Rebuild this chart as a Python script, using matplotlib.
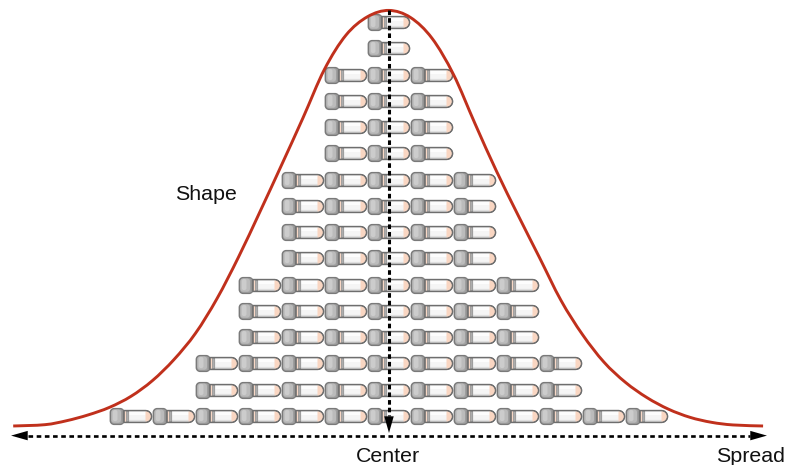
import numpy as np
import matplotlib
matplotlib.use("Agg")
import matplotlib.pyplot as plt
from matplotlib.path import Path
from matplotlib.patches import PathPatch

plt.rcParams['font.family'] = ['Liberation Sans', 'DejaVu Sans']

# ---- data -------------------------------------------------------------
column_offsets = [-6, -5, -4, -3, -2, -1, 0, 1, 2, 3, 4, 5, 6]
column_counts = [1, 1, 3, 6, 10, 14, 16, 14, 10, 6, 3, 1, 1]

curve_x = [-8.74, -8.0, -7.5, -7.0, -6.5, -6.0, -5.5, -5.0, -4.5, -4.0, -3.5, -3.0, -2.5, -2.0,
           -1.5, -1.0, -0.5, 0.0, 0.5, 1.0, 1.5, 2.0, 2.5, 3.0, 3.5, 4.0, 4.5, 5.0, 5.5, 6.0,
           6.5, 7.0, 7.5, 8.0, 8.7]
curve_y = [0.62, 0.67, 0.82, 1.04, 1.33, 1.75, 2.35, 3.15, 4.15, 5.47, 7.05, 8.78, 10.55, 12.35,
           14.2, 15.5, 16.2, 16.44, 16.17, 15.38, 14.0, 12.13, 10.32, 8.65, 7.03, 5.4, 4.1, 3.05, 2.28, 1.7,
           1.26, 0.95, 0.76, 0.66, 0.62]

label_shape = "Shape"
label_center = "Center"
label_spread = "Spread"

# ---- figure -----------------------------------------------------------
DPI = 100
fig = plt.figure(figsize=(7.86, 4.65), dpi=DPI)
ax = fig.add_axes([0, 0, 1, 1])
ax.set_xlim(-9.047, 9.233)
ax.set_ylim(-0.865, 16.836)
ax.axis('off')

xs = [c for c, n in zip(column_offsets, column_counts) for _ in range(n)]
ys = [k + 1 for n in column_counts for k in range(n)]


# ---- bullet glyph, stacked markers sized in pixels ---------------------
def rrect(x0, x1, y0, y1, r):
    k = 0.55 * r
    v = [(x0 + r, y0), (x1 - r, y0), (x1 - r + k, y0), (x1, y0 + r - k), (x1, y0 + r),
         (x1, y1 - r), (x1, y1 - r + k), (x1 - r + k, y1), (x1 - r, y1),
         (x0 + r, y1), (x0 + r - k, y1), (x0, y1 - r + k), (x0, y1 - r),
         (x0, y0 + r), (x0, y0 + r - k), (x0 + r - k, y0), (x0 + r, y0), (x0 + r, y0)]
    c = [Path.MOVETO, Path.LINETO, Path.CURVE4, Path.CURVE4, Path.CURVE4,
         Path.LINETO, Path.CURVE4, Path.CURVE4, Path.CURVE4,
         Path.LINETO, Path.CURVE4, Path.CURVE4, Path.CURVE4,
         Path.LINETO, Path.CURVE4, Path.CURVE4, Path.CURVE4, Path.CLOSEPOLY]
    return Path(v, c)


def body(x0, x1, y0, y1, rtip):
    k = 0.55
    ym = (y0 + y1) / 2
    h = (y1 - y0) / 2
    v = [(x0, y0), (x1 - rtip, y0), (x1 - rtip + k * rtip, y0), (x1, ym - k * h), (x1, ym),
         (x1, ym + k * h), (x1 - rtip + k * rtip, y1), (x1 - rtip, y1), (x0, y1), (x0, y0)]
    c = [Path.MOVETO, Path.LINETO, Path.CURVE4, Path.CURVE4, Path.CURVE4,
         Path.CURVE4, Path.CURVE4, Path.CURVE4, Path.LINETO, Path.CLOSEPOLY]
    return Path(v, c)


def stamp(path, fc='none', ec='none', lw=0.0, z=3):
    m = np.abs(path.vertices).max()
    ax.plot(xs, ys, ls='none', marker=path, ms=2 * m * 72 / DPI,
            mfc=fc, mec=ec, mew=lw, zorder=z, clip_on=False)


stamp(body(-9, 20, -5.9, 5.9, 6), fc='#f5f5f5', ec='#6e6e6e', lw=1.0)
stamp(rrect(-2.6, 14.5, 1.5, 5.2, 0.3), fc='#fdfdfd')
stamp(rrect(-2.6, 14.5, -5.2, -3.4, 0.3), fc='#e0e0e0')
stamp(rrect(-7.6, -5.0, -5.2, 5.2, 0.2), fc='#f8d8c6')
stamp(rrect(-5.0, -2.7, -5.2, 5.2, 0.2), fc='#adadad', ec='#808080', lw=0.4)
stamp(body(14, 19.6, -5.3, 5.3, 5.2), fc='#f9d6c2')
stamp(rrect(-21.2, -7.6, -7.9, 7.9, 3.8), fc='#a4a4a4', ec='#7a7a7a', lw=1.0)
stamp(rrect(-20, -10.5, -6.2, 7.0, 2.8), fc='#bbbbbb')
stamp(rrect(-18.7, -14, -4.6, 6.5, 2.0), fc='#cccccc')
stamp(rrect(-9.8, -8.2, -6.8, 6.8, 0.6), fc='#939393')
stamp(body(-7.6, 20, -5.9, 5.9, 6), ec='#6e6e6e', lw=1.0, z=3.2)


# ---- shape curve through the points ------------------------------------
def smooth_path(x, y):
    p = np.column_stack([x, y])
    v = [p[0]]
    c = [Path.MOVETO]
    for i in range(len(p) - 1):
        a = p[max(i - 1, 0)]
        b = p[i]
        d = p[i + 1]
        e = p[min(i + 2, len(p) - 1)]
        v += [b + (d - a) / 6, d - (e - b) / 6, d]
        c += [Path.CURVE4] * 3
    return Path(np.array(v), c)


ax.add_patch(PathPatch(smooth_path(curve_x, curve_y), fc='none', ec='#c0301c', lw=2.1,
                       capstyle='butt', joinstyle='round', zorder=5))

# ---- dashed arrows ------------------------------------------------------
head = dict(arrowstyle='-|>,head_length=1.2,head_width=0.34', mutation_scale=10,
            fc='black', ec='black', lw=0, shrinkA=0, shrinkB=0)
y_h = 0.254
x_tip = 8.79
x_base = 8.39
ax.plot([-x_base, x_base], [y_h, y_h], color='black', lw=1.9, dashes=(1.75, 1.35),
        dash_capstyle='butt', zorder=6)
for sign in (-1, 1):
    ax.annotate('', xy=(sign * x_tip, y_h), xytext=(sign * x_base, y_h), arrowprops=head, zorder=7)

ax.plot([0, 0], [16.45, 1.0], color='black', lw=2.2, dashes=(1.5, 1.0),
        dash_capstyle='butt', zorder=6)
ax.annotate('', xy=(0, 0.353), xytext=(0, 0.96), arrowprops=head, zorder=7)

# ---- labels --------------------------------------------------------------
ax.text(-4.26, 9.45, label_shape, fontsize=15.4, ha='center', va='center', color='#111111')
ax.text(-0.03, -0.56, label_center, fontsize=15.4, ha='center', va='center', color='#111111')
ax.text(8.40, -0.56, label_spread, fontsize=15.4, ha='center', va='center', color='#111111')

fig.savefig('out.png', dpi=DPI)
